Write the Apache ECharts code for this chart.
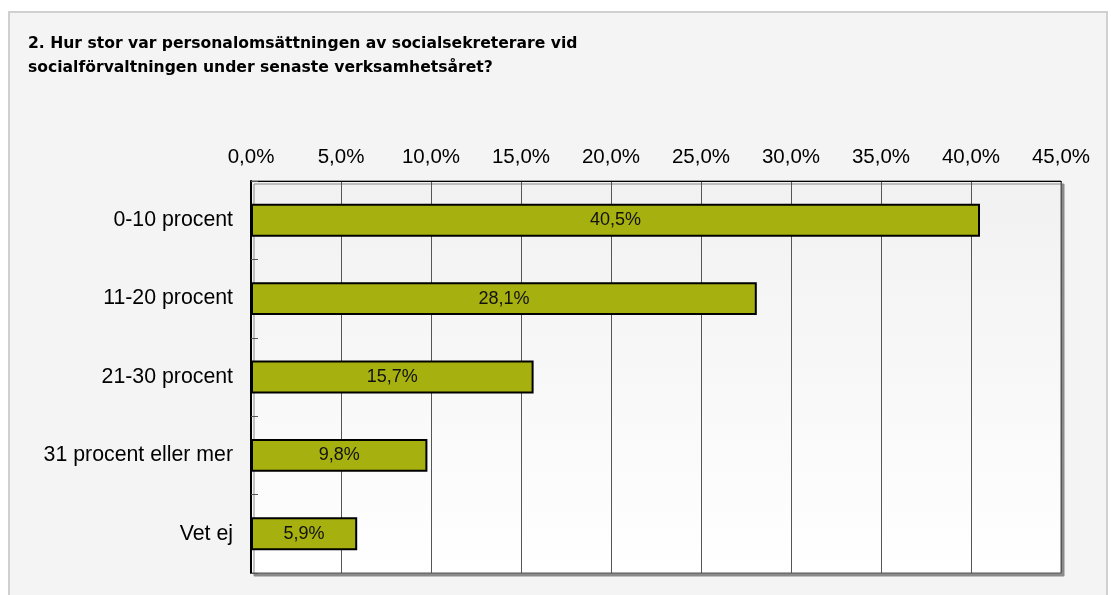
<!DOCTYPE html>
<html>
<head>
<meta charset="utf-8">
<script src="https://cdn.jsdelivr.net/npm/echarts@6/dist/echarts.min.js"></script>
<style>
  html, body { margin: 0; padding: 0; background: #ffffff; }
  #chart { width: 1111px; height: 595px; }
</style>
</head>
<body>
<div id="chart"></div>
<script>
const titleText = "2. Hur stor var personalomsättningen av socialsekreterare vid\nsocialförvaltningen under senaste verksamhetsåret?";
const categories = ["0-10 procent", "11-20 procent", "21-30 procent", "31 procent eller mer", "Vet ej"];
const shares = [40.5, 28.1, 15.7, 9.8, 5.9];

const pct = v => v.toFixed(1).replace(".", ",") + "%";

const chart = echarts.init(document.getElementById("chart"), null, { renderer: "canvas" });

chart.setOption({
  animation: false,
  backgroundColor: "#ffffff",
  graphic: [{
    type: "rect",
    z: -10,
    shape: { x: 9, y: 12, width: 1098, height: 600 },
    style: { fill: "#f4f4f4", stroke: "#d0d0d0", lineWidth: 2 }
  }],
  title: {
    text: titleText,
    left: 23,
    top: 27,
    textStyle: {
      fontFamily: "DejaVu Sans",
      fontWeight: "bold",
      fontSize: 15.6,
      lineHeight: 24,
      color: "#000000"
    }
  },
  grid: {
    left: 251,
    right: 50,
    top: 181,
    bottom: 22,
    show: true,
    borderColor: "#555555",
    borderWidth: 1,
    shadowColor: "#8a8a8a",
    shadowOffsetX: 3,
    shadowOffsetY: 3,
    shadowBlur: 0,
    backgroundColor: {
      type: "linear", x: 0, y: 0, x2: 0, y2: 1,
      colorStops: [
        { offset: 0, color: "#f1f1f1" },
        { offset: 1, color: "#ffffff" }
      ]
    }
  },
  xAxis: {
    type: "value",
    position: "top",
    min: 0,
    max: 45,
    interval: 5,
    axisLine: { show: true, lineStyle: { color: "#000000", width: 1 } },
    axisTick: { show: false },
    axisLabel: {
      formatter: v => pct(v),
      fontFamily: "Liberation Sans",
      fontSize: 20.5,
      color: "#000000",
      margin: 13
    },
    splitLine: { show: true, lineStyle: { color: "#555555", width: 1 } }
  },
  yAxis: {
    type: "category",
    inverse: true,
    data: categories,
    axisLine: { show: true, lineStyle: { color: "#000000", width: 2 } },
    axisTick: { show: true, inside: true, length: 7, lineStyle: { color: "#555555" } },
    axisLabel: {
      fontFamily: "Liberation Sans",
      fontSize: 21.3,
      color: "#000000",
      margin: 18
    },
    splitLine: { show: false }
  },
  series: [{
    type: "bar",
    data: shares,
    barWidth: "42%",
    itemStyle: {
      color: "#a6b00f",
      borderColor: "#000000",
      borderWidth: 2
    },
    label: {
      show: true,
      position: "inside",
      formatter: p => pct(p.value),
      fontFamily: "Liberation Sans",
      fontSize: 18,
      color: "#111111"
    }
  }]
});
</script>
</body>
</html>
